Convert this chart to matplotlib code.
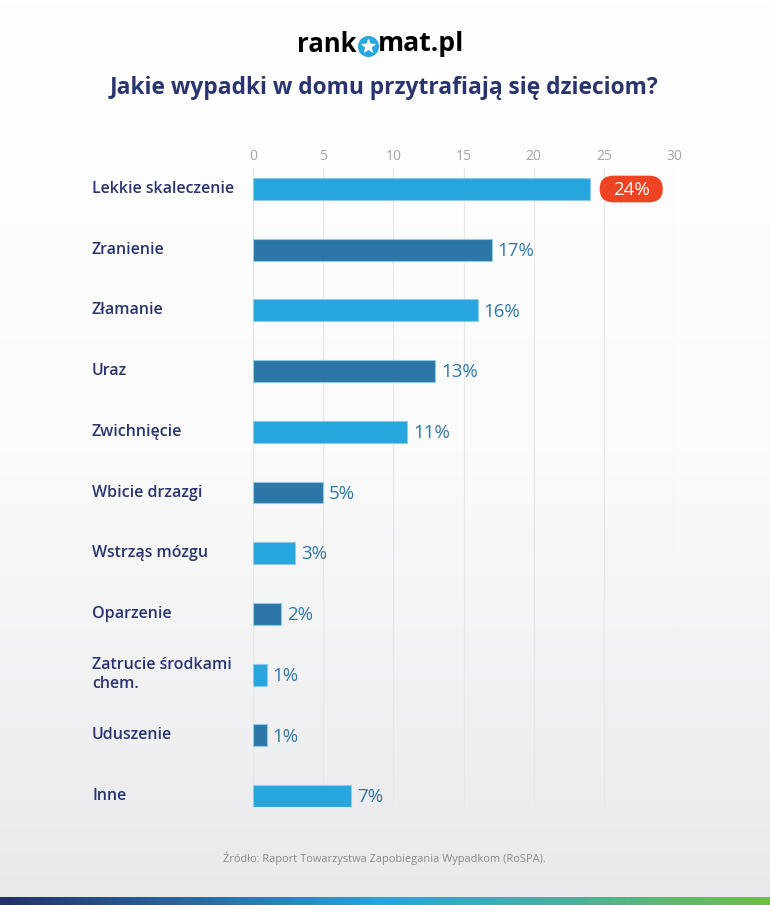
import matplotlib.pyplot as plt
import numpy as np
from matplotlib.colors import LinearSegmentedColormap
from matplotlib.patches import FancyBboxPatch

# --- DATA ---
categories = ['Lekkie skaleczenie', 'Zranienie', 'Złamanie', 'Uraz', 'Zwichnięcie',
              'Wbicie drzazgi', 'Wstrząs mózgu', 'Oparzenie',
              'Zatrucie środkami\nchem.', 'Uduszenie', 'Inne']
values = [24, 17, 16, 13, 11, 5, 3, 2, 1, 1, 7]
ticks = [0, 5, 10, 15, 20, 25, 30]

title = 'Jakie wypadki w domu przytrafiają się dzieciom?'
source = 'Źródło: Raport Towarzystwa Zapobiegania Wypadkom (RoSPA).'

# --- STYLE ---
FONT = ['Open Sans', 'DejaVu Sans']
plt.rcParams['font.family'] = FONT
NAVY = '#2a3470'
LIGHT = '#27a5dd'
DARK = '#2c77a8'
VALUE_COL = '#2f78aa'
RED = '#ee4423'

W, H = 770, 905
fig = plt.figure(figsize=(W / 100, H / 100), dpi=100)

# background gradient
bg = fig.add_axes([0, 0, 1, 1], zorder=-10)
grad = np.linspace(0, 1, 256).reshape(-1, 1)
bg_cmap = LinearSegmentedColormap.from_list('bg', ['#ffffff', '#fbfbfb', '#e8e9eb'])
bg.imshow(grad, aspect='auto', cmap=bg_cmap, extent=[0, 1, 0, 1], origin='upper')
bg.set_xlim(0, 1)
bg.set_ylim(0, 1)
bg.set_axis_off()

# bottom stripe
stripe = fig.add_axes([0, 0, 1, 8 / H], zorder=-5)
stripe_cmap = LinearSegmentedColormap.from_list('st', ['#22306c', '#2a6aa0', '#27a5dd', '#4fb09a', '#6ec046'])
stripe.imshow(np.linspace(0, 1, 512).reshape(1, -1), aspect='auto', cmap=stripe_cmap)
stripe.set_axis_off()

# --- CHART ---
left, right, top, bottom = 253, 674, 168, 807
ax = fig.add_axes([left / W, 1 - bottom / H, (right - left) / W, (bottom - top) / H])
ax.patch.set_alpha(0)

y = np.arange(len(categories))
colors = [LIGHT if i % 2 == 0 else DARK for i in range(len(categories))]
ax.barh(y, values, height=0.36, color=colors, edgecolor='#8fcbe8', linewidth=0.8, zorder=3)

ax.set_xlim(0, 30)
ax.set_ylim(10.18, -0.346)
ax.set_xticks(ticks)
ax.xaxis.tick_top()
ax.tick_params(axis='x', length=0, pad=3, labelsize=10, labelcolor='#a5a5a5')
ax.set_yticks([])
ax.grid(axis='x', color='#e6e7ea', linewidth=0.9, zorder=0)
for s in ax.spines.values():
    s.set_visible(False)

ytrans = ax.get_yaxis_transform()
for i, (cat, v) in enumerate(zip(categories, values)):
    ax.text((92 - left) / (right - left), i, cat, transform=ytrans, ha='left', va='center',
            fontsize=11.5, fontweight='semibold', color=NAVY, linespacing=1.3)
    if i == 0:
        badge = FancyBboxPatch((v + 0.7, i - 0.22), 4.5, 0.44,
                               boxstyle='round,pad=0,rounding_size=1.0',
                               mutation_aspect=0.22, facecolor=RED, edgecolor='none',
                               clip_on=False, zorder=4)
        ax.add_patch(badge)
        ax.text(v + 2.95, i + 0.02, f'{v}%', ha='center', va='center', fontsize=13.5,
                color='white', zorder=5, clip_on=False)
    else:
        ax.text(v + 0.4, i + 0.02, f'{v}%', ha='left', va='center', fontsize=13.5,
                color=VALUE_COL, zorder=5)

# --- TITLE / LOGO / SOURCE ---
fig.text(384 / W, 1 - 88 / H, title, ha='center', va='center', fontsize=16.4,
         fontweight='bold', color=NAVY)

logo_y = 1 - 44 / H
fig.text(357 / W, logo_y, 'rank', ha='right', va='center', fontsize=18.5,
         fontweight='bold', color='black')
fig.text(378 / W, logo_y, 'mat.pl', ha='left', va='center', fontsize=19.2,
         fontweight='bold', color='black')
bg.scatter([367.5 / W], [1 - 46.5 / H], s=200, marker='o', color='#28a7e0', zorder=3)
bg.scatter([367.5 / W], [1 - 46.5 / H], s=90, marker='*', color='white', zorder=4)

fig.text(384 / W, 1 - 858 / H, source, ha='center', va='center', fontsize=7.9,
         color='#8a8a8a')

fig.savefig('out.png', dpi=100)
